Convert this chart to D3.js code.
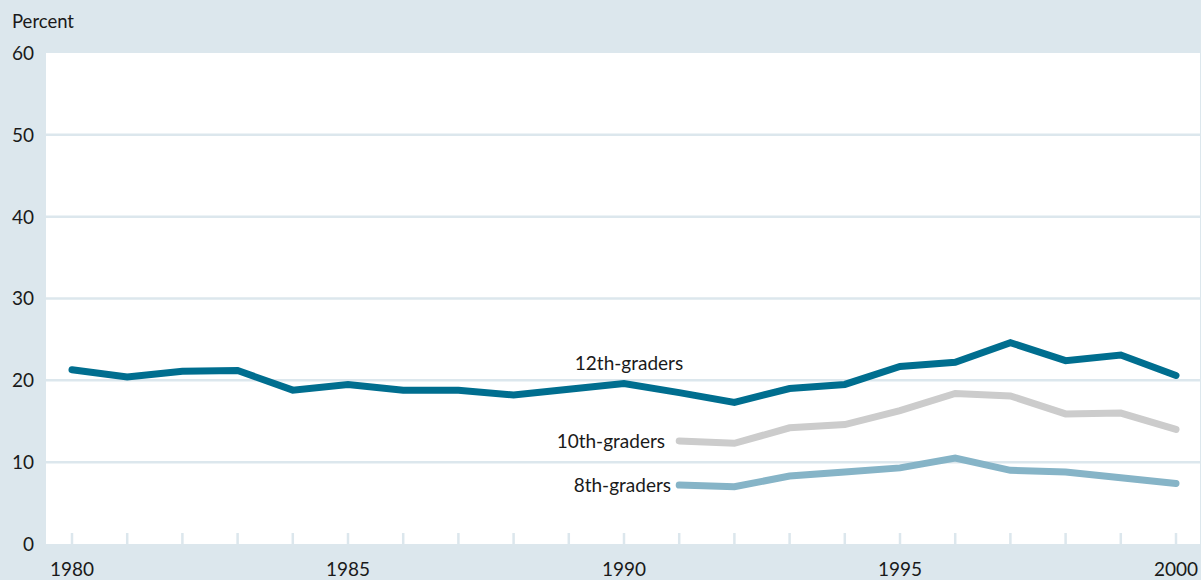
<!DOCTYPE html>
<html lang="en">
<head>
    <title>Percent by grade, 1980-2000</title>
    <script src="https://d3js.org/d3.v7.min.js"></script>
    <style>
        body { margin: 0; background: #dce7ed; }
        svg { display: block; font-family: "Lato", "Open Sans", sans-serif; }
    </style>
</head>
<body>
<svg id="chart"></svg>
<script>
    // data
    const years12 = d3.range(1980, 2001);
    const grade12 = [21.3, 20.4, 21.1, 21.2, 18.8, 19.5, 18.8, 18.8, 18.2, 18.9, 19.6,
                     18.5, 17.3, 19.0, 19.5, 21.7, 22.2, 24.6, 22.4, 23.1, 20.6];
    const years10 = d3.range(1991, 2001);
    const grade10 = [12.6, 12.3, 14.2, 14.6, 16.3, 18.4, 18.1, 15.9, 16.0, 14.0];
    const grade8  = [7.2, 7.0, 8.3, 8.8, 9.3, 10.5, 9.0, 8.8, 8.1, 7.4];
    const yTicks = [0, 10, 20, 30, 40, 50, 60];
    const xLabels = [1980, 1985, 1990, 1995, 2000];

    const width = 1201, height = 580;
    const plot = {left: 46, right: 1200, top: 53, bottom: 544};

    const svg = d3.select("#chart").attr("width", width).attr("height", height);

    const x = d3.scaleLinear().domain([1980, 2000]).range([72, 1176]);
    const y = d3.scaleLinear().domain([0, 60]).range([plot.bottom, plot.top]);

    svg.append("rect")
        .attr("width", width).attr("height", height)
        .attr("fill", "#dce7ed");

    svg.append("rect")
        .attr("x", plot.left).attr("y", plot.top)
        .attr("width", plot.right - plot.left)
        .attr("height", plot.bottom - plot.top)
        .attr("fill", "#fff");

    // gridlines
    svg.append("g")
        .selectAll("line")
        .data(yTicks.filter(d => d > 0 && d < 60))
        .join("line")
            .attr("x1", plot.left).attr("x2", plot.right)
            .attr("y1", d => y(d)).attr("y2", d => y(d))
            .attr("stroke", "#dce7ed").attr("stroke-width", 2.5);

    // year tick marks
    svg.append("g")
        .selectAll("line")
        .data(years12)
        .join("line")
            .attr("x1", d => x(d)).attr("x2", d => x(d))
            .attr("y1", plot.bottom - 11).attr("y2", plot.bottom)
            .attr("stroke", "#dce7ed").attr("stroke-width", 2.5);

    // y labels
    svg.append("g")
        .selectAll("text")
        .data(yTicks)
        .join("text")
            .attr("x", 34).attr("y", d => y(d))
            .attr("dy", "0.36em")
            .attr("text-anchor", "end")
            .attr("font-size", 19).attr("fill", "#1a1a1a")
            .text(d => d);

    svg.append("text")
        .attr("x", 12).attr("y", 28)
        .attr("font-size", 18.5).attr("fill", "#1a1a1a")
        .text("Percent");

    // x labels
    svg.append("g")
        .selectAll("text")
        .data(xLabels)
        .join("text")
            .attr("x", d => x(d)).attr("y", 576)
            .attr("text-anchor", "middle")
            .attr("font-size", 19).attr("fill", "#1a1a1a")
            .text(d => d);

    const line = d3.line().x(d => x(d[0])).y(d => y(d[1]));

    const series = [
        {name: "12th-graders", years: years12, vals: grade12, color: "#006e8f"},
        {name: "10th-graders", years: years10, vals: grade10, color: "#cccccc"},
        {name: "8th-graders",  years: years10, vals: grade8,  color: "#86b4c7"}
    ];

    svg.append("g")
        .selectAll("path")
        .data(series.slice().reverse())
        .join("path")
            .attr("d", s => line(d3.zip(s.years, s.vals)))
            .attr("fill", "none")
            .attr("stroke", s => s.color)
            .attr("stroke-width", 7)
            .attr("stroke-linecap", "round")
            .attr("stroke-linejoin", "miter");

    // series labels
    svg.append("text")
        .attr("x", 629).attr("y", y(grade12[10]) - 14)
        .attr("text-anchor", "middle")
        .attr("font-size", 19).attr("fill", "#1a1a1a")
        .text("12th-graders");

    svg.append("text")
        .attr("x", 665).attr("y", y(grade10[0])).attr("dy", "0.36em")
        .attr("text-anchor", "end")
        .attr("font-size", 19).attr("fill", "#1a1a1a")
        .text("10th-graders");

    svg.append("text")
        .attr("x", 671).attr("y", y(grade8[0])).attr("dy", "0.36em")
        .attr("text-anchor", "end")
        .attr("font-size", 19).attr("fill", "#1a1a1a")
        .text("8th-graders");
</script>
</body>
</html>
